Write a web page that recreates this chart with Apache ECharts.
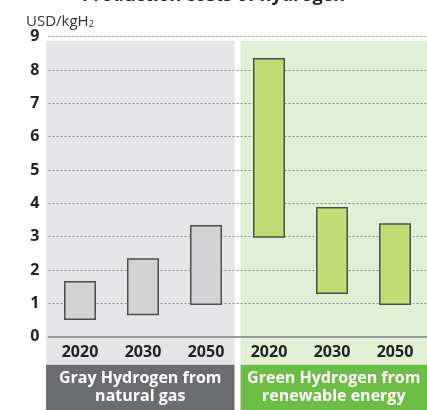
<!DOCTYPE html>
<html style="height: 100%">

<head>
  <meta charset="utf-8">
  <script type="text/javascript" src="https://cdn.jsdelivr.net/npm/echarts@6/dist/echarts.min.js"></script>
</head>

<body style="height: 100%; margin: 0; background: #fff">
  <div id="container" style="width: 427px; height: 410px"></div>
  <script type="text/javascript">
    // 数据
    var years = ['2020', '2030', '2050', '2020', '2030', '2050'];
    var costLow = [0.5, 0.64, 0.95, 2.97, 1.28, 0.95];
    var costHigh = [1.67, 2.35, 3.35, 8.36, 3.89, 3.4];
    var groupNames = ['Gray Hydrogen from\nnatural gas', 'Green Hydrogen from\nrenewable energy'];
    var yTicks = [0, 1, 2, 3, 4, 5, 6, 7, 8, 9];

    var font = '"Open Sans", "Noto Sans", sans-serif';
    var barFill = ['#d3d3d5', '#d3d3d5', '#d3d3d5', '#c3da75', '#c3da75', '#c3da75'];

    var dom = document.getElementById("container");
    var myChart = echarts.init(dom);

    var option = {
      animation: false,
      textStyle: { fontFamily: font },
      title: [{
        text: 'Production costs of hydrogen',
        left: 'center',
        top: -18,
        textStyle: { fontSize: 18, fontWeight: 'bold', color: '#222', fontFamily: font }
      }, {
        text: '{a|USD/kgH}{b|2}',
        left: 21,
        top: 9,
        textStyle: {
          fontWeight: 'normal',
          rich: {
            a: { fontSize: 15, color: '#333', fontWeight: 'normal', fontFamily: font },
            b: { fontSize: 9, color: '#333', fontWeight: 'normal', fontFamily: font, padding: [6, 0, 0, 0] }
          }
        }
      }],
      grid: { left: 48.5, right: 0.5, top: 36.7, bottom: 73.3 },
      xAxis: {
        type: 'category',
        data: years,
        axisLine: { lineStyle: { color: '#9a9a9a', width: 2 } },
        axisTick: { show: false },
        axisLabel: { fontSize: 16, fontWeight: 'bold', color: '#222', margin: 8, fontFamily: font },
        z: 5
      },
      yAxis: {
        type: 'value',
        min: yTicks[0],
        max: yTicks[yTicks.length - 1],
        interval: 1,
        axisLine: { show: false },
        axisTick: { show: false },
        axisLabel: { fontSize: 16, fontWeight: 'bold', color: '#222', margin: 9, fontFamily: font },
        splitLine: { lineStyle: { color: '#8c8c8c', type: [2, 2], width: 1 } }
      },
      series: [{
        type: 'bar',
        stack: 'cost',
        barWidth: 32,
        itemStyle: { color: 'transparent' },
        silent: true,
        data: costLow
      }, {
        type: 'bar',
        stack: 'cost',
        barWidth: 32,
        data: costHigh.map(function (h, i) {
          return {
            value: +(h - costLow[i]).toFixed(2),
            itemStyle: { color: barFill[i], borderColor: '#4d4d4d', borderWidth: 1.5 }
          };
        })
      }]
    };
    myChart.setOption(option);

    // 背景分区与底部分组标签，位置由坐标轴换算
    var x0 = myChart.convertToPixel({ xAxisIndex: 0 }, 0);
    var x1 = myChart.convertToPixel({ xAxisIndex: 0 }, 1);
    var band = x1 - x0;
    var yTop = myChart.convertToPixel({ yAxisIndex: 0 }, 9);
    var yZero = myChart.convertToPixel({ yAxisIndex: 0 }, 0);
    var leftEdge = x0 - band / 2 - 2.5;
    var midLeft = x0 + band * 2.5 - 3;
    var midRight = x0 + band * 2.5 + 3;
    var rightEdge = 427;
    var panelTop = yTop + 4;
    var panelBottom = yZero + 28;

    myChart.setOption({
      graphic: [
        { type: 'rect', z: -10, shape: { x: leftEdge, y: panelTop, width: midLeft - leftEdge, height: panelBottom - panelTop }, style: { fill: '#e5e5e7' } },
        { type: 'rect', z: -10, shape: { x: midRight, y: panelTop, width: rightEdge - midRight, height: panelBottom - panelTop }, style: { fill: '#e2efd5' } },
        { type: 'rect', shape: { x: leftEdge, y: panelBottom, width: midLeft - leftEdge, height: 410 - panelBottom }, style: { fill: '#6b6c70' } },
        { type: 'rect', shape: { x: midRight, y: panelBottom, width: rightEdge - midRight, height: 410 - panelBottom }, style: { fill: '#6cbd45' } },
        {
          type: 'text', x: (leftEdge + midLeft) / 2, y: panelBottom + 5,
          style: { text: groupNames[0], fill: '#fff', font: 'bold 16px ' + font, align: 'center', verticalAlign: 'top', lineHeight: 18 }
        },
        {
          type: 'text', x: (midRight + rightEdge) / 2, y: panelBottom + 5,
          style: { text: groupNames[1], fill: '#fff', font: 'bold 16px ' + font, align: 'center', verticalAlign: 'top', lineHeight: 18 }
        }
      ]
    });
  </script>
</body>

</html>
